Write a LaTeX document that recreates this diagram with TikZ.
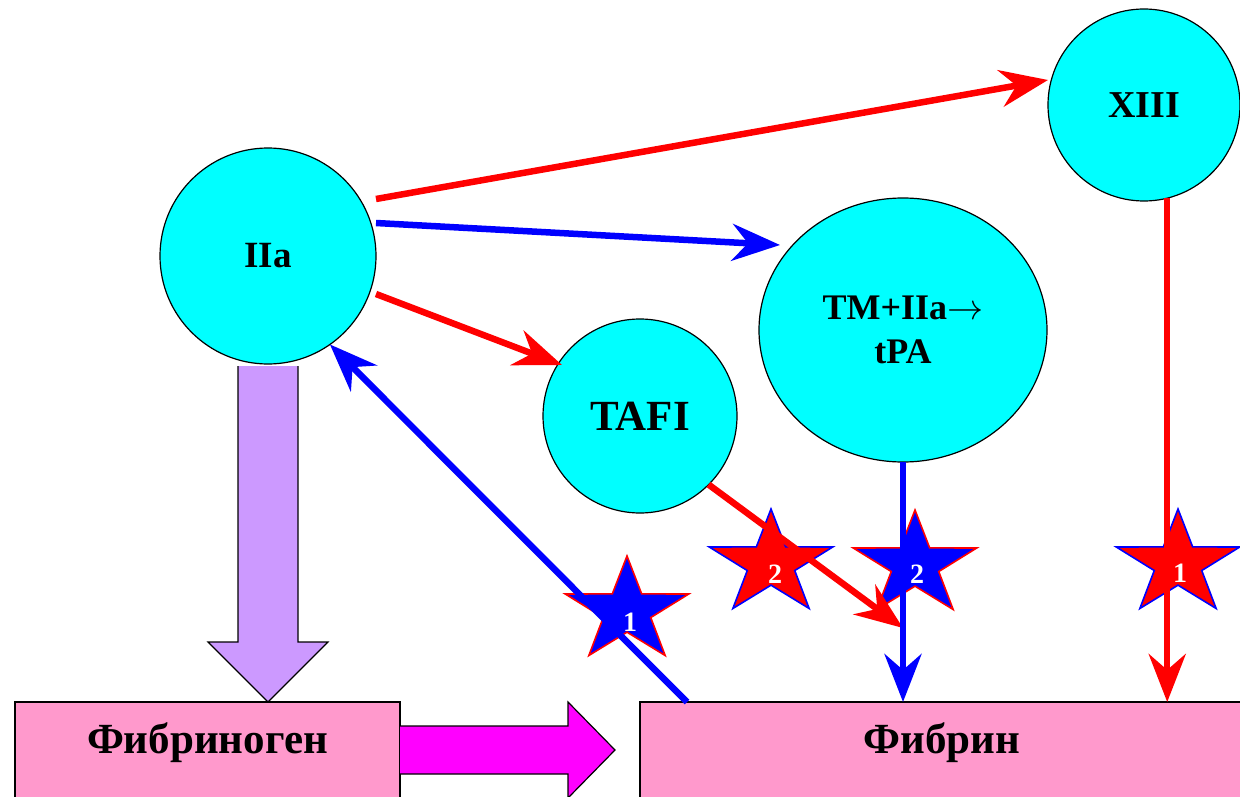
\documentclass[tikz,border=0pt]{standalone}
\usepackage{fontspec}
\setmainfont{Liberation Serif}
\usetikzlibrary{shapes.geometric,arrows.meta,calc}
\definecolor{cy}{RGB}{0,255,255}
\definecolor{pinkbox}{RGB}{255,153,204}
\definecolor{lav}{RGB}{204,153,255}
\definecolor{mag}{RGB}{255,0,255}
\definecolor{rd}{RGB}{255,0,0}
\definecolor{bl}{RGB}{0,0,255}
\begin{document}
\begin{tikzpicture}[x=1pt,y=-1pt,
  ball/.style={circle, fill=cy, draw=black, line width=1.2pt, inner sep=0pt, outer sep=0pt, font=\bfseries\fontsize{37}{42}\selectfont},
  box/.style={rectangle, fill=pinkbox, draw=black, line width=1.2pt, inner sep=0pt, outer sep=0pt, minimum height=96pt, text height=27pt, text depth=21pt, font=\bfseries\fontsize{43}{48}\selectfont},
  conn/.style={line width=6.5pt, -{Stealth[length=48pt,width=37pt,inset=16pt]}},
  star5/.style={star, star points=5, star point ratio=2.6, minimum size=110pt, inner sep=0pt, outer sep=0pt, line width=1.6pt, transform shape, xscale=1.18},
  num/.style={text=white, inner sep=0pt, font=\bfseries\fontsize{28}{32}\selectfont},
  bigarrow/.style={draw=black, line width=1.2pt}
]
\clip (0,0) rectangle (1240,797);
\node[ball, minimum size=216pt] (IIa) at (268,256) {IIa};
\node[ball, minimum size=192pt, font=\bfseries\fontsize{38}{42}\selectfont] (XIII) at (1144,105) {XIII};
\node[ball, minimum size=194pt, font=\bfseries\fontsize{43}{48}\selectfont] (TAFI) at (640,416) {TAFI};
\node[ellipse, fill=cy, draw=black, line width=1.2pt, minimum width=288pt, minimum height=264pt, inner sep=0pt, outer sep=0pt, align=center, font=\bfseries\fontsize{36}{44}\selectfont] (TM) at (903,330) {TM+IIa\scalebox{1.45}{$\rightarrow$}\\tPA};
\node[box, minimum width=385pt] (fg) at (207.5,750) {Фибриноген};
\node[box, minimum width=604pt] (fb) at (942,750) {Фибрин};
% lavender arrow
\coordinate (lt) at (IIa.south |- fg.north);
\draw[bigarrow, fill=lav] ($(IIa.south)+(-30,2)$) -- ($(lt)+(-30,-60)$) -- ($(lt)+(-60,-60)$) -- (lt) -- ($(lt)+(60,-60)$) -- ($(lt)+(30,-60)$) -- ($(IIa.south)+(30,2)$);
% magenta arrow
\coordinate (mt) at ($(fb.west)+(-25,0)$);
\draw[bigarrow, fill=mag] ($(fg.east)+(0,-24)$) -- ($(mt)+(-47,-24)$) -- ($(mt)+(-47,-48)$) -- (mt) -- ($(mt)+(-47,48)$) -- ($(mt)+(-47,24)$) -- ($(fg.east)+(0,24)$);
% stars
\node[star5, fill=bl, draw=rd] (s1) at (627,611) {};
\node[star5, fill=rd, draw=bl] (s2) at (771,564) {};
\node[star5, fill=bl, draw=rd] (s3) at (915,565) {};
\node[star5, fill=rd, draw=bl] (s4) at (1178,564) {};
% connectors
\draw[conn, rd] ([yshift=57pt]IIa.east) -- ([yshift=25pt]XIII.west);
\draw[conn, bl] ([yshift=33pt]IIa.east) -- ([shift={(21pt,85pt)}]TM.west);
\draw[conn, rd] ([yshift=-38pt]IIa.east) -- ([shift={(19pt,51pt)}]TAFI.west);
\draw[conn, bl] ([xshift=47pt]fb.north west) -- (IIa.-55);
\coordinate (meet) at ($(TM.south)+(0,166)$);
\draw[conn, rd] (TAFI.-45) -- (meet);
\draw[conn, bl] (TM.south) -- (TM.south |- fb.north);
\draw[conn, rd] (XIII.-76) -- (XIII.-76 |- fb.north);
% digits
\node[num] (n1) at (630,622) {1};
\node[num] (n2) at (775,574) {2};
\node[num] (n3) at (917,574) {2};
\node[num] (n4) at (1180,573) {1};
\end{tikzpicture}
\end{document}
